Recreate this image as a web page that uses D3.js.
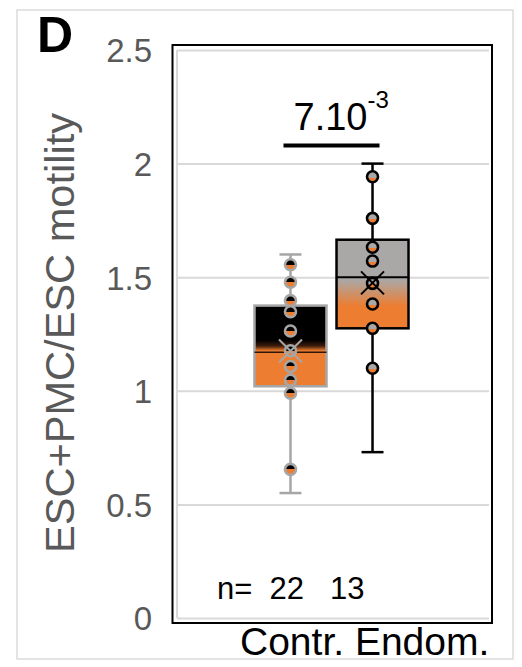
<!DOCTYPE html>
<html>
<head>
<meta charset="utf-8">
<script src="https://cdn.jsdelivr.net/npm/d3@7"></script>
<style>
  html, body { margin: 0; padding: 0; background: #fff; }
  text { font-family: "Liberation Sans", Arial, sans-serif; }
</style>
</head>
<body>
<script>
// ---- data ----
const categories = ["Contr.", "Endom."];
const nCounts = [22, 13];
const whiskerLow = [0.55, 0.73];
const q1 = [1.02, 1.275];
const median = [1.17, 1.5];
const q3 = [1.375, 1.665];
const whiskerHigh = [1.6, 2.0];
const means = [1.175, 1.475];
const contrPoints = [1.555, 1.478, 1.397, 1.348, 1.263, 1.176, 1.107, 1.047, 0.989, 0.654];
const endomPoints = [1.942, 1.759, 1.632, 1.571, 1.473, 1.382, 1.275, 1.099];
const yTicks = [0, 0.5, 1, 1.5, 2, 2.5];
const yTickLabels = ["0", "0.5", "1", "1.5", "2", "2.5"];
const pValueBase = "7.10";
const pValueExp = "-3";
const pBarLevel = 2.08;

const W = 522, H = 667;
const orange = "#ED7D31";
const greyFill = "#aaa8a7";
const ctrlStroke = "#a6a6a6";
const gridColor = "#d9d9d9";
const tickColor = "#595959";

const svg = d3.select("body").append("svg")
  .attr("width", W).attr("height", H);

// figure border
svg.append("rect")
  .attr("x", 17).attr("y", 10).attr("width", 496).attr("height", 649)
  .attr("fill", "none").attr("stroke", "#d6d6d6").attr("stroke-width", 1.3);

// panel letter
svg.append("text").attr("x", 37).attr("y", 52)
  .attr("font-size", 50).attr("font-weight", "bold").attr("fill", "#000")
  .text("D");

// plot area
const plot = { left: 177, right: 489, top: 50, bottom: 618 };
const y = d3.scaleLinear().domain([0, 2.5]).range([plot.bottom, plot.top]);
const x = d3.scalePoint().domain(categories).range([174, 489]).padding(1.42);

// gradients
const defs = svg.append("defs");
function grad(id, stops) {
  const g = defs.append("linearGradient").attr("id", id)
    .attr("x1", 0).attr("y1", 0).attr("x2", 0).attr("y2", 1);
  stops.forEach(([o, c]) => g.append("stop").attr("offset", o).attr("stop-color", c));
}
grad("boxCtrl", [[0, "#000"], [0.43, "#000"], [0.5, "#3d1c0a"], [0.56, orange], [1, orange]]);
grad("boxEndo", [[0, greyFill], [0.45, greyFill], [0.75, orange], [1, orange]]);
grad("ptCtrl", [[0, "#000"], [0.5, "#000"], [0.5, orange], [1, orange]]);
grad("ptEndo", [[0, greyFill], [0.6, greyFill], [0.6, orange], [1, orange]]);

const styles = [
  { box: "url(#boxCtrl)", pt: "url(#ptCtrl)", stroke: ctrlStroke, points: contrPoints, med: "#2e1608" },
  { box: "url(#boxEndo)", pt: "url(#ptEndo)", stroke: "#000", points: endomPoints, med: "#000" }
];

// gridlines
const grid = svg.append("g").attr("transform", `translate(${plot.right},0)`)
  .call(d3.axisLeft(y).tickValues(yTicks).tickSize(plot.right - plot.left).tickFormat(""));
grid.select(".domain").remove();
grid.selectAll("line").attr("stroke", gridColor).attr("stroke-width", 2);

// inner left edge
svg.append("line")
  .attr("x1", plot.left).attr("x2", plot.left)
  .attr("y1", y(2.5)).attr("y2", y(0))
  .attr("stroke", gridColor).attr("stroke-width", 2);

// frame
svg.append("rect")
  .attr("x", 172.5).attr("y", 45).attr("width", 319.5).attr("height", 578)
  .attr("fill", "none").attr("stroke", "#000").attr("stroke-width", 2);

// tick labels
const yAxis = svg.append("g").attr("transform", "translate(152,0)")
  .call(d3.axisLeft(y).tickValues(yTicks).tickSize(0).tickPadding(0)
    .tickFormat(d => yTickLabels[yTicks.indexOf(d)]));
yAxis.select(".domain").remove();
yAxis.selectAll("text")
  .attr("font-size", 33).attr("fill", tickColor)
  .attr("font-family", "Liberation Sans, Arial, sans-serif")
  .attr("dy", "0.36em");

// y title
svg.append("text")
  .attr("transform", "translate(74,333) rotate(-90)")
  .attr("text-anchor", "middle")
  .attr("font-size", 41).attr("fill", tickColor)
  .attr("textLength", 440).attr("lengthAdjust", "spacingAndGlyphs")
  .text("ESC+PMC/ESC motility");

// boxes
const boxW = 72, capW = 22;
categories.forEach((c, i) => {
  const cx = x(c);
  const s = styles[i];
  const g = svg.append("g");
  // whisker
  g.append("line").attr("x1", cx).attr("x2", cx)
    .attr("y1", y(whiskerLow[i])).attr("y2", y(whiskerHigh[i]))
    .attr("stroke", s.stroke).attr("stroke-width", 2.5);
  [whiskerLow[i], whiskerHigh[i]].forEach(v => {
    g.append("line").attr("x1", cx - capW / 2).attr("x2", cx + capW / 2)
      .attr("y1", y(v)).attr("y2", y(v))
      .attr("stroke", s.stroke).attr("stroke-width", 2.5);
  });
  // box
  g.append("rect")
    .attr("x", cx - boxW / 2).attr("width", boxW)
    .attr("y", y(q3[i])).attr("height", y(q1[i]) - y(q3[i]))
    .attr("fill", s.box).attr("stroke", s.stroke).attr("stroke-width", 2.5);
  // median
  g.append("line").attr("x1", cx - boxW / 2).attr("x2", cx + boxW / 2)
    .attr("y1", y(median[i])).attr("y2", y(median[i]))
    .attr("stroke", s.med).attr("stroke-width", i === 0 ? 1.5 : 2);
  // points
  g.selectAll("circle").data(s.points).join("circle")
    .attr("cx", cx).attr("cy", d => y(d)).attr("r", 5.5)
    .attr("fill", s.pt).attr("stroke", s.stroke).attr("stroke-width", 2.6);
  // mean marker
  const my = y(means[i]), mh = 11.5;
  g.append("path")
    .attr("d", `M${cx - mh},${my - mh}L${cx + mh},${my + mh}M${cx - mh},${my + mh}L${cx + mh},${my - mh}`)
    .attr("stroke", s.stroke).attr("stroke-width", 2).attr("fill", "none");
});

// significance bar
const barX1 = x(categories[0]) - 7, barX2 = x(categories[1]) + 7;
svg.append("line")
  .attr("x1", barX1).attr("x2", barX2)
  .attr("y1", y(pBarLevel)).attr("y2", y(pBarLevel))
  .attr("stroke", "#000").attr("stroke-width", 4);
const pt = svg.append("text")
  .attr("x", (barX1 + barX2) / 2 - 38).attr("y", y(pBarLevel) - 15)
  .attr("font-size", 38).attr("fill", "#000");
pt.append("tspan").text(pValueBase);
pt.append("tspan").attr("dy", -22).attr("font-size", 24).text(pValueExp);

// sample counts
svg.append("text")
  .attr("x", 217).attr("y", 599)
  .attr("font-size", 31).attr("fill", "#000")
  .attr("xml:space", "preserve")
  .text("n=  " + nCounts[0] + "   " + nCounts[1]);

// category labels
svg.append("text")
  .attr("x", 240).attr("y", 655)
  .attr("font-size", 39).attr("fill", "#000")
  .text(categories.join(" "));
</script>
</body>
</html>
